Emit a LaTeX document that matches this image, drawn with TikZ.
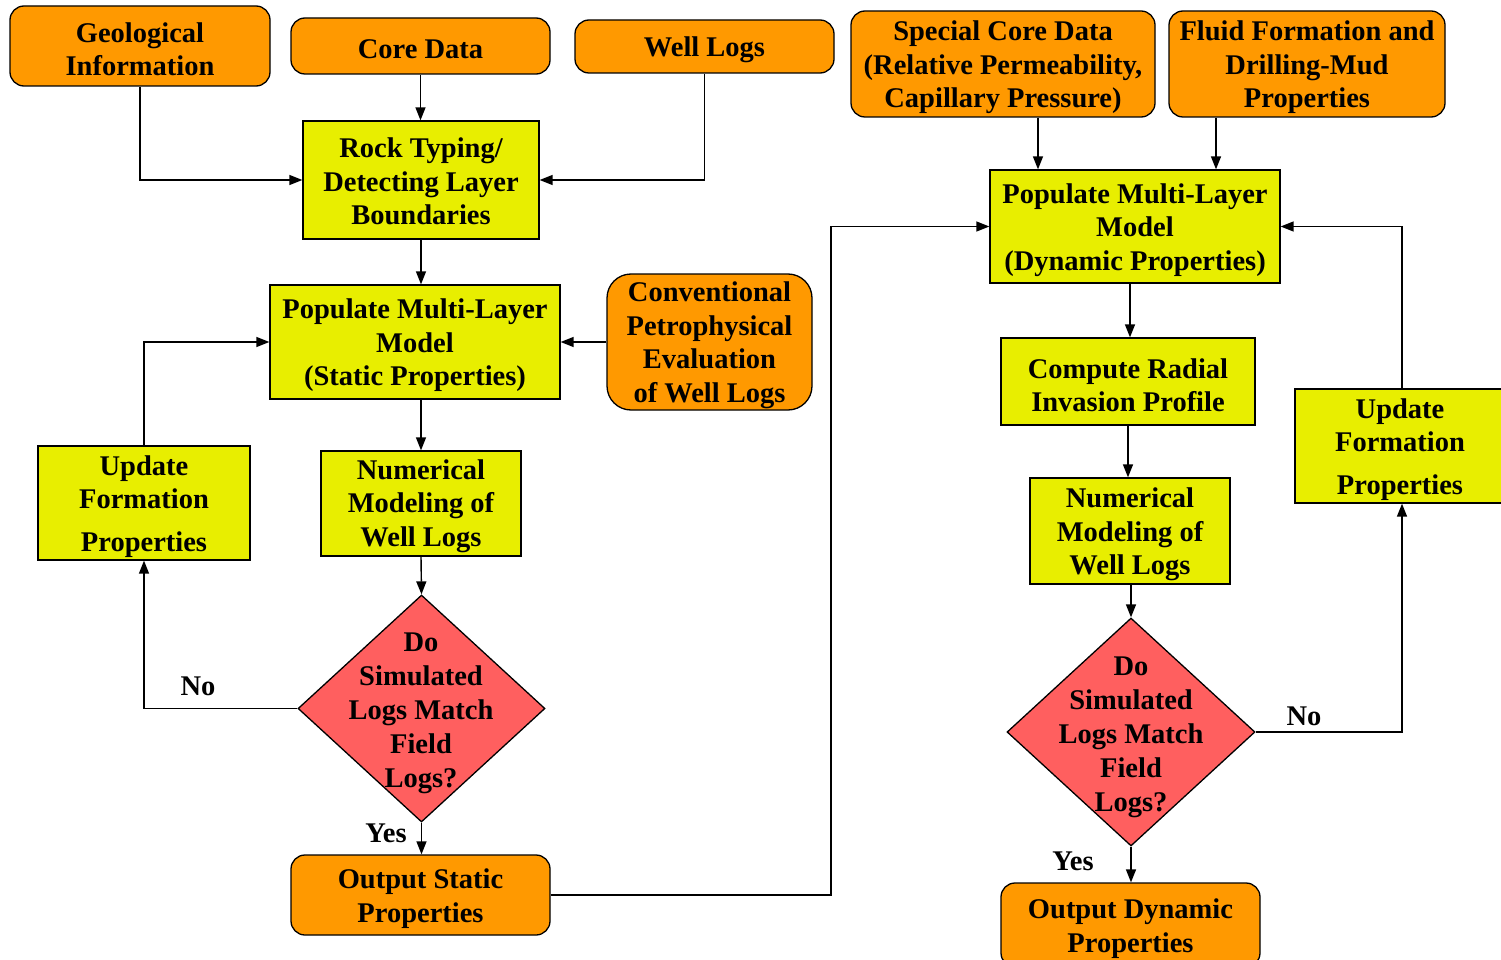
\documentclass[tikz,border=0pt]{standalone}
\usepackage{fontspec}
\setmainfont{Liberation Serif}
\usetikzlibrary{shapes.geometric,arrows.meta}
\definecolor{boxorange}{RGB}{255,153,0}
\definecolor{boxyellow}{RGB}{232,238,0}
\definecolor{boxred}{RGB}{255,95,95}
\tikzset{
  tlab/.style={align=center, inner sep=0pt, yshift=-3.5pt,
    font=\fontsize{28.5}{33.5}\selectfont\bfseries},
  base/.style={draw=black, line width=1.3pt, inner sep=0pt},
  obox/.style={base, fill=boxorange, rounded corners=14pt},
  ybox/.style={base, fill=boxyellow},
  dbox/.style={draw=black, line width=1.3pt, fill=boxred, shape=diamond, inner sep=0pt},
  txt/.style={align=center, inner sep=0pt, font=\fontsize{28.5}{34}\selectfont\bfseries},
  arr/.style={line width=1.4pt, -{Triangle[length=13pt,width=10pt]}}
}
\begin{document}
\begin{tikzpicture}[x=1pt,y=-1pt]
\useasboundingbox (0,0) rectangle (1501,960);
% top row
\node[obox, minimum width=260, minimum height=80, label={[tlab]center:{Geological\\Information}}] (geo) at (140,46) {};
\node[obox, minimum width=259, minimum height=56, label={[tlab]center:{Core Data}}] (core) at (420.5,46) {};
\node[obox, minimum width=259, minimum height=53, label={[tlab]center:{Well Logs}}] (well) at (704.5,46.5) {};
\node[obox, minimum width=304, minimum height=106, label={[tlab]center:{Special Core Data\\(Relative Permeability,\\Capillary Pressure)}}] (scd) at (1003,64) {};
\node[obox, minimum width=276, minimum height=106, label={[tlab]center:{Fluid Formation and\\Drilling-Mud\\Properties}}] (fluid) at (1307,64) {};
% left column
\node[ybox, minimum width=236, minimum height=118, label={[tlab,yshift=2pt]center:{Rock Typing/\\Detecting Layer\\Boundaries}}] (rock) at (421,180) {};
\node[ybox, minimum width=290, minimum height=114, label={[tlab]center:{Populate Multi-Layer\\Model\\(Static Properties)}}] (pop1) at (415,342) {};
\node[obox, minimum width=205, minimum height=136, rounded corners=24pt, label={[tlab]center:{Conventional\\Petrophysical\\Evaluation\\of Well Logs}}] (conv) at (709.5,342) {};
\node[ybox, minimum width=212, minimum height=114, label={[tlab]center:{Update\\Formation\\[9pt]Properties}}] (upd1) at (144,503) {};
\node[ybox, minimum width=200, minimum height=105, label={[tlab,yshift=1pt]center:{Numerical\\Modeling of\\Well Logs}}] (num1) at (421,503.5) {};
\node[dbox, minimum width=247, minimum height=227] (dia1) at (421.5,708.5) {};
\node[txt] (q1) at (421,713) {Do\\Simulated\\Logs Match\\Field\\Logs?};
\node[obox, minimum width=259, minimum height=80, label={[tlab]center:{Output Static\\Properties}}] (out1) at (420.5,895) {};
% right column
\node[ybox, minimum width=290, minimum height=113, label={[tlab]center:{Populate Multi-Layer\\Model\\(Dynamic Properties)}}] (pop2) at (1135,226.5) {};
\node[ybox, minimum width=254, minimum height=87, label={[tlab]center:{Compute Radial\\Invasion Profile}}] (crp) at (1128,381.5) {};
\node[ybox, minimum width=200, minimum height=106, label={[tlab]center:{Numerical\\Modeling of\\Well Logs}}] (num2) at (1130,531) {};
\node[dbox, minimum width=248, minimum height=228] (dia2) at (1131,732) {};
\node[txt] (q2) at (1131,737) {Do\\Simulated\\Logs Match\\Field\\Logs?};
\node[ybox, minimum width=210, minimum height=114, label={[tlab]center:{Update\\Formation\\[9pt]Properties}}] (upd2) at (1400,446) {};
\node[obox, minimum width=259, minimum height=84, label={[tlab]center:{Output Dynamic\\Properties}}] (out2) at (1130.5,925) {};
% connectors
\draw[arr] (geo.south) |- (rock.west);
\draw[arr] (core.south) -- (core.south |- rock.north);
\draw[arr] (well.south) |- (rock.east);
\draw[arr] (rock.south) -- (rock.south |- pop1.north);
\draw[arr] (conv.west) -- (pop1.east |- conv.west);
\draw[arr] (pop1.south -| rock.south) -- (num1.north -| rock.south);
\draw[arr] (num1.south) -- (dia1.north);
\draw[arr] (dia1.west) -| (upd1.south);
\draw[arr] (upd1.north) |- (pop1.west);
\draw[arr] (dia1.south) -- (out1.north -| dia1.south);
\coordinate (j1) at (831,895);
\draw[arr] (out1.east) -- (j1) |- (pop2.west);
\draw[arr] (scd.south -| 1038,0) -- (pop2.north -| 1038,0);
\draw[arr] (fluid.south -| 1216,0) -- (pop2.north -| 1216,0);
\draw[arr] (pop2.south -| 1130,0) -- (crp.north -| 1130,0);
\draw[arr] (crp.south) -- (crp.south |- num2.north);
\draw[arr] (num2.south -| dia2.north) -- (dia2.north);
\draw[arr] (dia2.east) -| (1402,0 |- upd2.south);
\draw[arr] (1402,0 |- upd2.north) |- (pop2.east);
\draw[arr] (dia2.south) -- (out2.north -| dia2.south);
% labels
\node[txt] (no1) at (198,686) {No};
\node[txt] (yes1) at (386,833) {Yes};
\node[txt] (no2) at (1304,716) {No};
\node[txt] (yes2) at (1073,861) {Yes};
\end{tikzpicture}
\end{document}
